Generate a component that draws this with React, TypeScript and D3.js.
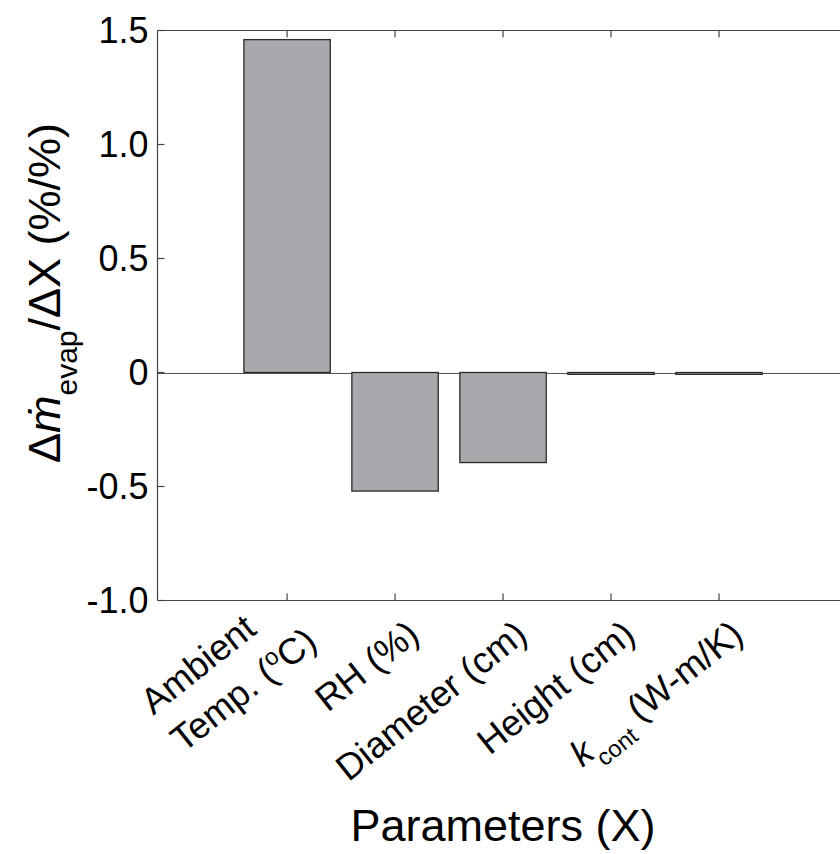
import React, { useEffect, useRef } from "react";
import * as d3 from "d3";

// ---- data ----
const categoryIndex = [0, 1, 2, 3, 4];
const sensitivityValues = [1.46, -0.52, -0.395, -0.008, -0.008];
const yTickValues = [-1.0, -0.5, 0, 0.5, 1.0, 1.5];
const yTickLabels = ["-1.0", "-0.5", "0", "0.5", "1.0", "1.5"];
type Seg = { t: string; sup?: boolean; sub?: boolean; it?: boolean };
const categoryLabels: Seg[][][] = [
  [[{ t: "Ambient" }], [{ t: "Temp. (" }, { t: "o", sup: true }, { t: "C)" }]],
  [[{ t: "RH (%)" }]],
  [[{ t: "Diameter (cm)" }]],
  [[{ t: "Height (cm)" }]],
  [[{ t: "k", it: true }, { t: "cont", sub: true }, { t: " (W-m/K)" }]],
];
const xTitle = "Parameters (X)";

const W = 840;
const H = 854;

export default function App() {
  const ref = useRef<SVGSVGElement | null>(null);

  useEffect(() => {
    document.body.style.margin = "0";
    const svg = d3.select(ref.current);
    svg.selectAll("*").remove();
    const font = "Arial, 'Liberation Sans', Helvetica, sans-serif";
    const axisColor = "#444";

    const x = d3.scaleLinear().domain([-1.2, 5.2]).range([157.5, 848.6]);
    const y = d3.scaleLinear().domain([-1, 1.5]).range([600.5, 30.5]);
    const left = x(-1.2);
    const right = x(5.2);
    const top = y(1.5);
    const bottom = y(-1);

    // zero line
    svg.append("line")
      .attr("x1", left).attr("x2", right)
      .attr("y1", Math.round(y(0)) + 0.5).attr("y2", Math.round(y(0)) + 0.5)
      .attr("stroke", "#555").attr("stroke-width", 1);

    // bars
    svg.selectAll("rect.bar")
      .data(categoryIndex)
      .enter()
      .append("rect")
      .attr("class", "bar")
      .attr("x", (i) => x(i - 0.4))
      .attr("width", (i) => x(i + 0.4) - x(i - 0.4))
      .attr("y", (i) => Math.min(y(sensitivityValues[i]), y(0)))
      .attr("height", (i) => Math.max(Math.abs(y(sensitivityValues[i]) - y(0)), 1))
      .attr("fill", "#a8a9ad")
      .attr("stroke", "#2a2a2a")
      .attr("stroke-width", 1.3);

    // frame
    const frame = svg.append("g").attr("stroke", axisColor).attr("stroke-width", 1.2).attr("fill", "none");
    frame.append("line").attr("x1", left).attr("x2", left).attr("y1", top).attr("y2", bottom);
    frame.append("line").attr("x1", left).attr("x2", right).attr("y1", top).attr("y2", top);
    frame.append("line").attr("x1", left).attr("x2", right).attr("y1", bottom).attr("y2", bottom);
    frame.append("line").attr("x1", right).attr("x2", right).attr("y1", top).attr("y2", bottom);

    const tl = 7;
    // y ticks (inward)
    yTickValues.forEach((v, k) => {
      const yy = y(v);
      frame.append("line").attr("x1", left).attr("x2", left + tl).attr("y1", yy).attr("y2", yy);
      frame.append("line").attr("x1", right).attr("x2", right - tl).attr("y1", yy).attr("y2", yy);
      svg.append("text")
        .attr("x", left - 9)
        .attr("y", yy + 12)
        .attr("text-anchor", "end")
        .attr("font-family", font)
        .attr("font-size", 36)
        .attr("fill", "#000")
        .text(yTickLabels[k]);
    });
    // x ticks (inward, top and bottom)
    categoryIndex.forEach((i) => {
      const xx = x(i);
      frame.append("line").attr("x1", xx).attr("x2", xx).attr("y1", bottom).attr("y2", bottom - tl);
      frame.append("line").attr("x1", xx).attr("x2", xx).attr("y1", top).attr("y2", top + tl);
    });

    // x tick labels (rotated)
    const fs = 36.5;
    const lineGap = 48;
    categoryIndex.forEach((i) => {
      const lines = categoryLabels[i];
      const n = lines.length;
      const g = svg.append("g")
        .attr("transform", `translate(${x(i)},${bottom}) rotate(-38.5)`);
      const texts = lines.map((segs, li) => {
        const lastY = n > 1 ? 55 : 46;
        const t = g.append("text")
          .attr("font-family", font)
          .attr("font-size", fs)
          .attr("fill", "#000")
          .attr("text-anchor", "start")
          .attr("y", lastY - (n - 1 - li) * lineGap);
        segs.forEach((s) => {
          const sp = t.append("tspan").text(s.t);
          if (s.sup) sp.attr("font-size", fs * 0.65).attr("baseline-shift", "super");
          if (s.sub) sp.attr("font-size", fs * 0.65).attr("baseline-shift", "sub");
          if (s.it) sp.attr("font-style", "italic");
        });
        return t;
      });
      const widths = texts.map((t) => (t.node() as SVGTextElement).getComputedTextLength());
      const maxW = Math.max(...widths);
      texts.forEach((t) => t.attr("x", -3 - maxW));
    });

    // x title
    svg.append("text")
      .attr("x", 503)
      .attr("y", 841)
      .attr("text-anchor", "middle")
      .attr("font-family", font)
      .attr("font-size", 45)
      .attr("fill", "#000")
      .text(xTitle);

    // y title
    const yt = svg.append("text")
      .attr("transform", "translate(60,293) rotate(-90)")
      .attr("text-anchor", "middle")
      .attr("font-family", font)
      .attr("font-size", 45)
      .attr("fill", "#000");
    yt.append("tspan").text("Δ");
    yt.append("tspan").attr("font-style", "italic").text("ṁ");
    yt.append("tspan").attr("font-size", 30).attr("baseline-shift", "sub").text("evap");
    yt.append("tspan").text("/ΔX (%/%)");
  }, []);

  return <svg ref={ref} width={W} height={H} style={{ display: "block", background: "#fff" }} />;
}
